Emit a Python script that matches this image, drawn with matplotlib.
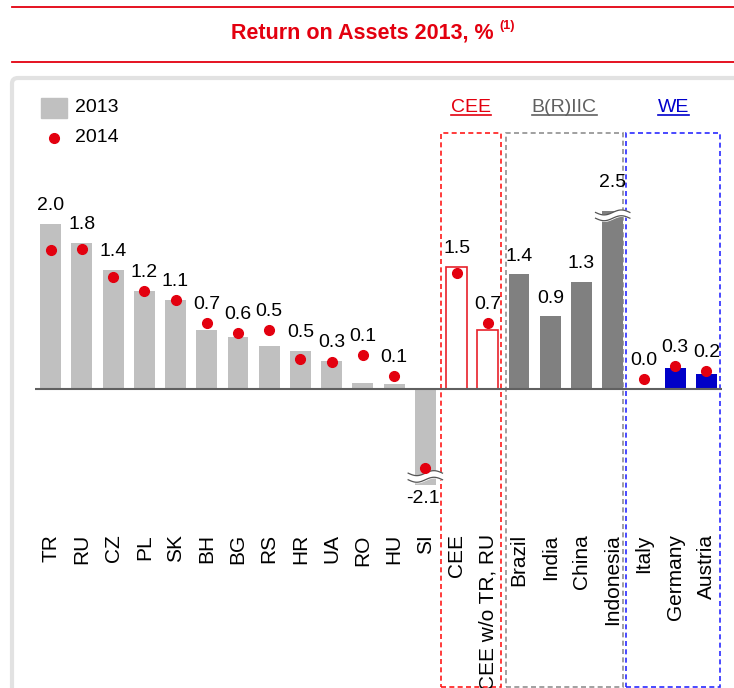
import numpy as np
import matplotlib
matplotlib.use("Agg")
import matplotlib.pyplot as plt
from matplotlib.patches import Rectangle, FancyBboxPatch
from matplotlib.lines import Line2D
import matplotlib.transforms as mtransforms

plt.rcParams['font.family'] = ['Liberation Sans', 'DejaVu Sans']

# data
countries = ['TR', 'RU', 'CZ', 'PL', 'SK', 'BH', 'BG', 'RS', 'HR', 'UA', 'RO', 'HU', 'SI']
countries_2013 = [2.0, 1.77, 1.44, 1.19, 1.08, 0.72, 0.63, 0.52, 0.46, 0.34, 0.07, 0.06, -2.1]
countries_2014 = [1.68, 1.70, 1.36, 1.19, 1.08, 0.80, 0.68, 0.72, 0.36, 0.33, 0.41, 0.16, -0.96]
cee_groups = ['CEE', 'CEE w/o TR, RU']
cee_2013 = [1.48, 0.72]
cee_2014 = [1.41, 0.80]
bric = ['Brazil', 'India', 'China', 'Indonesia']
bric_2013 = [1.39, 0.88, 1.30, 2.5]
we = ['Italy', 'Germany', 'Austria']
we_2013 = [0.0, 0.26, 0.18]
we_2014 = [0.12, 0.28, 0.22]

# broken-axis display limits
cap_lo, cap_hi = -1.16, 2.16

RED = '#e3000f'
W, H = 734, 688

fig = plt.figure(figsize=(W / 100, H / 100), dpi=100)

def fx(px):
    return px / W

def fy(py):
    return 1 - py / H

# header lines and title
for yy in (7, 62):
    fig.add_artist(Line2D([fx(12), 1], [fy(yy), fy(yy)], color=RED, lw=1.3))
fig.text(fx(494), fy(33), "Return on Assets 2013, %", color=RED, fontsize=15.5,
         fontweight='bold', ha='right', va='center')
fig.text(fx(499), fy(26), "(1)", color=RED, fontsize=9, fontweight='bold',
         ha='left', va='center')

# light frame
fig.add_artist(FancyBboxPatch((fx(12), fy(720)), fx(760), fy(78) - fy(720),
                              boxstyle="round,pad=0,rounding_size=0.008",
                              transform=fig.transFigure, fill=False,
                              edgecolor='#e2e2e2', lw=3))

ax = fig.add_axes([fx(35), fy(530), fx(722) - fx(35), fy(140) - fy(530)])
ax.set_xlim(-0.5, 21.5)
ax.set_ylim((389 - 530) / 82.5, (389 - 140) / 82.5)
for s in ax.spines.values():
    s.set_visible(False)
ax.set_yticks([])

labels = countries + cee_groups + bric + we
n1, n2, n3 = len(countries), len(cee_groups), len(bric)
x = np.arange(len(labels))
vals_2013 = countries_2013 + cee_2013 + bric_2013 + we_2013
vals_2014 = countries_2014 + cee_2014 + [None] * n3 + we_2014
shown = [min(max(v, cap_lo), cap_hi) for v in vals_2013]

bw = 0.67
ax.bar(x[:n1], shown[:n1], width=bw, color='#c0c0c0', zorder=2)
ax.bar(x[n1:n1 + n2], shown[n1:n1 + n2], width=bw, facecolor='white',
       edgecolor='#e8202a', lw=1.2, zorder=2)
ax.bar(x[n1 + n2:n1 + n2 + n3], shown[n1 + n2:n1 + n2 + n3], width=bw,
       color='#808080', zorder=2)
ax.bar(x[n1 + n2 + n3:], shown[n1 + n2 + n3:], width=bw, color='#0000c8', zorder=2)

px_dot = [xi for xi, v in zip(x, vals_2014) if v is not None]
py_dot = [v for v in vals_2014 if v is not None]
ax.plot(px_dot, py_dot, 'o', color=RED, ms=7, zorder=4, lw=0)

ax.axhline(0, color='#606060', lw=1.5, zorder=3)

# break marks
def brk(xc, y1, y2):
    tt = np.linspace(-0.55, 0.55, 60)
    w = 0.03 * np.sin(2 * np.pi * tt / 1.1)
    ax.fill_between(xc + tt, y1 + w, y2 + w, color='white', zorder=3)
    ax.plot(xc + tt, y1 + w, color='#555555', lw=0.9, zorder=3)
    ax.plot(xc + tt, y2 + w, color='#555555', lw=0.9, zorder=3)

for xi, v in zip(x, vals_2013):
    if v < cap_lo:
        brk(xi, -1.02, -1.10)
    elif v > cap_hi:
        brk(xi, 2.07, 2.14)

# value labels
for xi, v, s, d in zip(x, vals_2013, shown, vals_2014):
    if v < 0:
        ax.annotate(f"{v:.1f}", (xi, s), xytext=(-2, -4), textcoords='offset points',
                    ha='center', va='top', fontsize=14)
        continue
    top = max(s, d if d is not None else s)
    off = 14 if v > cap_hi else 7
    ax.annotate(f"{v:.1f}", (xi, top), xytext=(0, off), textcoords='offset points',
                ha='center', va='bottom', fontsize=14)

ax.set_xticks(x)
ax.set_xticklabels(labels, rotation=90, fontsize=15, va='top')
ax.tick_params(axis='x', length=0, pad=3)

# group boxes and headers
btr = mtransforms.blended_transform_factory(ax.transData, fig.transFigure)
boxes = [(12.51, 14.43, '#ff1a1a', 'CEE'), (14.57, 18.32, '#909090', 'B(R)IIC'),
         (18.44, 21.45, '#2a2aff', 'WE')]
head_colors = [RED, '#606060', '#0000cc']
heads = []
for (x0, x1, c, name), hc in zip(boxes, head_colors):
    ax.add_patch(Rectangle((x0, fy(687)), x1 - x0, fy(133) - fy(687), transform=btr,
                           fill=False, edgecolor=c, lw=1.2, linestyle=(0, (3, 2)),
                           clip_on=False, zorder=1))
    heads.append(ax.text((x0 + x1) / 2, fy(107), name, transform=btr, color=hc,
                         fontsize=14, ha='center', va='center'))

# legend
fig.add_artist(Rectangle((fx(41), fy(118)), fx(26), fy(98) - fy(118),
                         transform=fig.transFigure, color='#c0c0c0'))
fig.text(fx(75), fy(108), "2013", fontsize=14, va='center')
fig.add_artist(Line2D([fx(54)], [fy(138)], marker='o', color=RED, ms=7,
                      transform=fig.transFigure))
fig.text(fx(75), fy(138), "2014", fontsize=14, va='center')

# underline headers
fig.canvas.draw()
r = fig.canvas.get_renderer()
for h in heads:
    bb = h.get_window_extent(r)
    yb = bb.y0 + 1
    fig.add_artist(Line2D([bb.x0 / W, bb.x1 / W], [yb / H, yb / H],
                          color=h.get_color(), lw=1.2))

fig.savefig("out.png", dpi=100)
